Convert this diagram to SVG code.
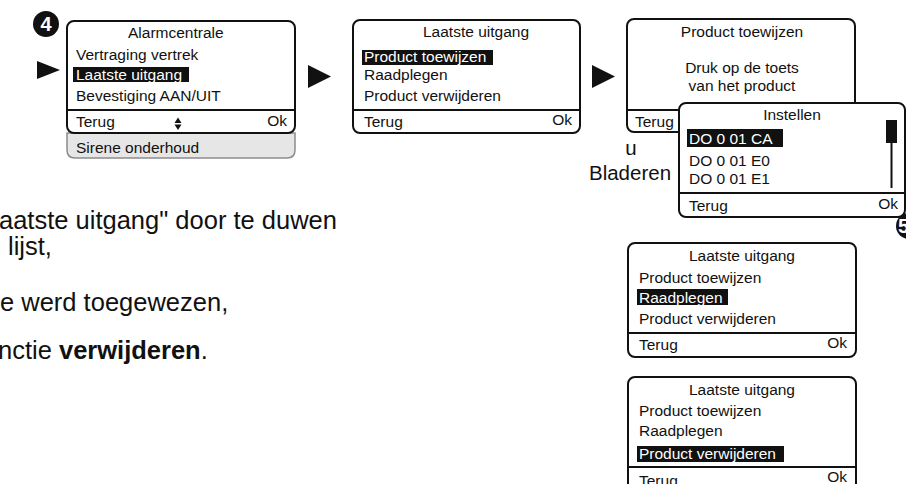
<svg xmlns="http://www.w3.org/2000/svg" width="906" height="484" viewBox="0 0 906 484">
<style>
text{font-family:"Liberation Sans",Arial,Helvetica,sans-serif;fill:#111}
.t{font-size:15.5px}
.big{font-size:25.5px}
.hl{fill:#fff}
.box{fill:#fff;stroke:#111;stroke-width:2}
.div{stroke:#111;stroke-width:2}
.bar{fill:#111}
.arr{fill:#111}
.badge{fill:#111}
.bt{fill:#fff;font-size:20px;font-weight:bold}
</style>

<g id="badge4">
<circle class="badge" cx="46" cy="24" r="13"/>
<text class="bt" x="46" y="31" text-anchor="middle">4</text>
</g>

<g id="connectors">
<polygon class="arr" points="37,61 37,79 60,70"/>
<polygon class="arr" points="308,65 308,88 331,76.5"/>
<polygon class="arr" points="592,65 592,88 615,76.5"/>
</g>

<g id="screen-alarmcentrale">
<path d="M67,133 V150 Q67,158 75,158 H287 Q295,158 295,150 V133 Z" fill="#e6e6e6" stroke="#8c8c8c" stroke-width="1.5"/>
<text class="t" x="76" y="153">Sirene onderhoud</text>
<rect class="box" x="67" y="21" width="228" height="112" rx="7"/>
<line class="div" x1="67" y1="110" x2="295" y2="110"/>
<text class="t" x="128" y="38">Alarmcentrale</text>
<text class="t" x="76" y="60">Vertraging vertrek</text>
<rect class="bar" x="73" y="67" width="116" height="15"/>
<text class="t hl" x="76" y="80">Laatste uitgang</text>
<text class="t" x="76" y="101">Bevestiging AAN/UIT</text>
<text class="t" x="76" y="127">Terug</text>
<polygon class="arr" points="174.5,123 181.5,123 178,117.5"/>
<polygon class="arr" points="174.5,124.5 181.5,124.5 178,130"/>
<text class="t" x="287" y="126" text-anchor="end">Ok</text>
</g>

<g id="screen-laatste-uitgang-1">
<rect class="box" x="353" y="20" width="227" height="113" rx="7"/>
<line class="div" x1="353" y1="110" x2="580" y2="110"/>
<text class="t" x="423" y="37">Laatste uitgang</text>
<rect class="bar" x="362" y="50" width="131" height="15"/>
<text class="t hl" x="364" y="62">Product toewijzen</text>
<text class="t" x="364" y="80">Raadplegen</text>
<text class="t" x="364" y="101">Product verwijderen</text>
<text class="t" x="364" y="127">Terug</text>
<text class="t" x="572" y="125" text-anchor="end">Ok</text>
</g>

<g id="screen-product-toewijzen">
<rect class="box" x="627" y="19" width="228" height="113" rx="7"/>
<line class="div" x1="627" y1="110" x2="855" y2="110"/>
<text class="t" x="742" y="37" text-anchor="middle">Product toewijzen</text>
<text class="t" x="742" y="73" text-anchor="middle">Druk op de toets</text>
<text class="t" x="742" y="91" text-anchor="middle">van het product</text>
<text class="t" x="635" y="127">Terug</text>
</g>

<g id="label-bladeren">
<text x="631" y="155" font-size="20.5" text-anchor="middle">u</text>
<text x="630" y="180" font-size="20.5" text-anchor="middle">Bladeren</text>
</g>

<g id="screen-instellen">
<rect class="box" x="679" y="103" width="226" height="114" rx="7"/>
<line class="div" x1="679" y1="193" x2="905" y2="193"/>
<text class="t" x="792" y="120" text-anchor="middle">Instellen</text>
<rect class="bar" x="687" y="129" width="96" height="18"/>
<text class="t hl" x="689" y="144">DO 0 01 CA</text>
<text class="t" x="689" y="166">DO 0 01 E0</text>
<text class="t" x="689" y="184">DO 0 01 E1</text>
<rect class="bar" x="886" y="120" width="11" height="23"/>
<line class="div" x1="891.5" y1="143" x2="891.5" y2="188"/>
<text class="t" x="689" y="211">Terug</text>
<text class="t" x="898" y="209" text-anchor="end">Ok</text>
</g>

<g id="badge5">
<circle class="badge" cx="909" cy="226" r="13"/>
<text class="bt" x="898" y="233">5</text>
</g>

<g id="screen-raadplegen">
<rect class="box" x="628" y="243" width="228" height="114" rx="7"/>
<line class="div" x1="628" y1="333" x2="856" y2="333"/>
<text class="t" x="742" y="261" text-anchor="middle">Laatste uitgang</text>
<text class="t" x="639" y="283">Product toewijzen</text>
<rect class="bar" x="637" y="289" width="91" height="16"/>
<text class="t hl" x="639" y="303">Raadplegen</text>
<text class="t" x="639" y="324">Product verwijderen</text>
<text class="t" x="639" y="350">Terug</text>
<text class="t" x="847" y="348" text-anchor="end">Ok</text>
</g>

<g id="screen-verwijderen">
<rect class="box" x="628" y="377" width="228" height="114" rx="7"/>
<line class="div" x1="628" y1="467" x2="856" y2="467"/>
<text class="t" x="742" y="395" text-anchor="middle">Laatste uitgang</text>
<text class="t" x="639" y="416">Product toewijzen</text>
<text class="t" x="639" y="436">Raadplegen</text>
<rect class="bar" x="637" y="446" width="147" height="16"/>
<text class="t hl" x="639" y="459">Product verwijderen</text>
<text class="t" x="639" y="486">Terug</text>
<text class="t" x="847" y="482" text-anchor="end">Ok</text>
</g>

<g id="instructions">
<text class="big" x="-1" y="229">aatste uitgang" door te duwen</text>
<text class="big" x="8" y="255">lijst,</text>
<text class="big" x="0" y="311">e werd toegewezen,</text>
<text class="big" x="-2" y="359">nctie <tspan font-weight="bold">verwijderen</tspan>.</text>
</g>
</svg>
